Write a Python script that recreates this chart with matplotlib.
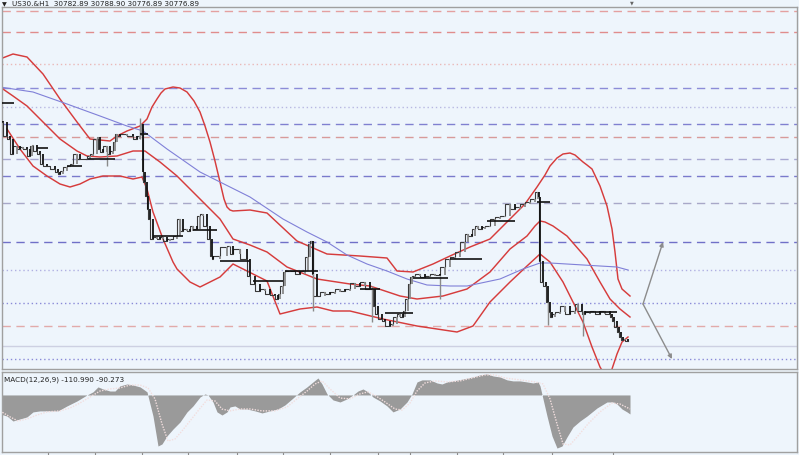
import matplotlib
matplotlib.use('Agg')
import matplotlib.pyplot as plt

BG = '#eef5fc'

# US30 H1 closes: (hour, close)
price_path = [
    (0, 31657), (1.5, 31653), (3.5, 31597), (5, 31585), (6.5, 31525), (8.5, 31557), (10, 31545),
    (11.5, 31553), (13.5, 31545), (15, 31517), (16, 31557), (16.5, 31561), (18.5, 31537), (20, 31525),
    (21.5, 31485), (23.5, 31477), (25, 31477), (27.5, 31465), (29, 31453), (30, 31445), (31.5, 31457),
    (33.5, 31473), (35, 31477), (36.5, 31485), (38.5, 31525), (40, 31505), (43.5, 31505), (45, 31517),
    (46.5, 31525), (48.5, 31585), (49, 31593), (50, 31545), (51.5, 31533), (53.5, 31557), (55, 31525),
    (56.5, 31537), (57.5, 31573), (58.5, 31605), (60, 31597), (63.5, 31605), (66.5, 31597), (68.5, 31585),
    (70, 31597), (71, 31645), (71.5, 31625), (71.5, 31453), (72.5, 31413), (73.5, 31357), (74, 31305),
    (75, 31265), (76.5, 31185), (78.5, 31193), (80, 31185), (81.5, 31193), (83.5, 31177), (85, 31185),
    (86.5, 31185), (88.5, 31197), (90, 31265), (91.5, 31217), (93.5, 31225), (95, 31217), (96.5, 31237),
    (98.5, 31225), (100, 31277), (101.5, 31285), (103.5, 31237), (105, 31185), (106, 31117), (106.5, 31105),
    (110, 31117), (113.5, 31153), (115, 31157), (116.5, 31125), (120, 31145), (123.5, 31105), (125, 31037),
    (127.5, 31005), (130, 30977), (132.5, 30985), (135, 30965), (137.5, 30961), (139, 30945), (140, 30965),
    (141.5, 30997), (142.5, 31053), (145, 31057), (147.5, 31057), (150, 31045), (152.5, 31057), (154, 31113),
    (155, 31165), (156, 31177), (156.5, 31045), (158.5, 30957), (160, 30957), (162.5, 30973), (165, 30965),
    (167.5, 30973), (170, 30985), (172.5, 30977), (175, 30985), (177.5, 31009), (180, 30997), (182.5, 31013),
    (185, 30985), (186.5, 30985), (187.5, 30917), (189, 30885), (191, 30865), (192.5, 30857), (195, 30837),
    (196.5, 30845), (198.5, 30873), (200, 30885), (201.5, 30873), (202.5, 30897), (204, 30945), (205, 31005),
    (206, 31033), (207.5, 31037), (210, 31045), (212.5, 31033), (215, 31037), (217.5, 31045), (220, 31041),
    (222.5, 31073), (225, 31105), (227.5, 31113), (230, 31133), (232.5, 31173), (234, 31205), (236, 31197),
    (237.5, 31225), (239, 31237), (241, 31225), (242.5, 31233), (245, 31237), (247.5, 31265), (250, 31273),
    (252.5, 31277), (255, 31325), (257.5, 31305), (260, 31313), (262.5, 31325), (265, 31333), (267.5, 31345),
    (269, 31373), (269.5, 31353), (270, 31097), (271.5, 31013), (273, 30997), (274, 30933), (275, 30893),
    (276, 30873), (277.5, 30885), (280, 30893), (282.5, 30917), (285, 30885), (287.5, 30897), (289, 30925),
    (291, 30897), (292.5, 30885), (295, 30893), (297.5, 30897), (300, 30885), (302.5, 30897), (305, 30885),
    (306, 30873), (307, 30857), (308.5, 30833), (309.5, 30813), (310.5, 30793), (311.5, 30781),
    (312.5, 30785), (314, 30777),
]

wick_hours = [53.5, 70, 156.5, 186, 220, 274, 291.5]
wick_high = [31557, 31669, 31177, 30997, 31037, 30933, 30897]
wick_low = [31477, 31585, 30897, 30853, 30945, 30841, 30797]

# higher timeframe open/close marks: (from hour, to hour, level)
htf_marks = [
    (0, 7, 31729), (18.5, 24, 31549), (33.5, 41, 31477), (44, 57.5, 31505), (70, 74, 31605),
    (76.5, 91.5, 31197), (96.5, 108.5, 31221), (110, 125, 31097), (126.5, 141.5, 31017),
    (142.5, 159, 31057), (180, 190, 30985), (192.5, 206.5, 30889), (206.5, 224, 31029),
    (225, 241, 31105), (243.5, 257.5, 31257), (268.5, 275, 31333), (292.5, 308.5, 30893),
]

bb_upper_t = [0, 6.5, 13.5, 21.5, 30, 38.5, 45, 55, 58.5, 63.5, 70, 73.5, 76, 78.5, 80.5, 82.5, 86.5,
              90, 93.5, 97, 100, 102.5, 105, 107.5, 110, 112, 113.5, 115, 116.5, 125, 133.5, 141,
              148.5, 163.5, 180, 193.5, 198.5, 206.5, 216.5, 225, 235, 245, 255, 262.5, 268.5, 272.5,
              275, 278.5, 281.5, 285, 287.5, 291.5, 293.5, 296, 300, 303.5, 306, 307.5, 309, 311, 315]
bb_upper = [31905, 31925, 31913, 31845, 31745, 31653, 31585, 31577, 31597, 31617, 31637, 31665, 31713,
            31745, 31769, 31785, 31793, 31789, 31773, 31737, 31693, 31637, 31573, 31497, 31413, 31345,
            31313, 31301, 31297, 31301, 31289, 31233, 31177, 31125, 31117, 31109, 31057, 31053, 31085,
            31117, 31153, 31185, 31265, 31325, 31393, 31441, 31477, 31509, 31525, 31529, 31521, 31493,
            31481, 31465, 31397, 31317, 31225, 31133, 31025, 30985, 30957]

bb_mid_t = [0, 6.5, 13.5, 21.5, 30, 38.5, 43.5, 50, 58.5, 66.5, 72.5, 80, 88.5, 100, 110, 116.5, 125,
            133.5, 143.5, 158.5, 175, 185, 200, 208.5, 221.5, 233.5, 245, 255, 263.5, 267.5, 270,
            272.5, 276.5, 283.5, 293.5, 300, 305, 310, 315]
bb_mid = [31793, 31757, 31717, 31653, 31585, 31537, 31517, 31513, 31517, 31537, 31537, 31493, 31437,
          31345, 31265, 31185, 31161, 31133, 31073, 31025, 31005, 30997, 30957, 30945, 30957, 30985,
          31053, 31145, 31197, 31237, 31257, 31253, 31237, 31197, 31105, 31013, 30945, 30905, 30873]

bb_lower_t = [3.5, 10, 16.5, 23.5, 30, 35, 40, 45, 51.5, 60, 66.5, 71, 73.5, 76.5, 81.5, 86.5, 88.5,
              95, 100, 110, 116.5, 123.5, 133.5, 140, 150, 158.5, 166.5, 175, 191.5, 208.5, 228.5,
              236.5, 245, 255, 263.5, 270, 275, 281.5, 291.5, 296, 300, 303, 306, 308.5, 311, 314]
bb_lower = [31625, 31545, 31477, 31437, 31405, 31393, 31405, 31425, 31437, 31437, 31425, 31433, 31385,
            31293, 31185, 31093, 31065, 31013, 30993, 31033, 31085, 31057, 31017, 30885, 30905, 30913,
            30897, 30897, 30865, 30837, 30813, 30837, 30933, 31013, 31077, 31125, 31093, 31013, 30853,
            30753, 30673, 30633, 30665, 30725, 30773, 30793]

ma_t = [0, 16.5, 33.5, 50, 63.5, 71.5, 83.5, 100, 110, 125, 141.5, 153.5, 163.5, 173.5, 183.5, 193.5,
        203.5, 213.5, 225, 233.5, 250, 261.5, 270, 275, 300, 308.5, 314]
ma = [31793, 31773, 31725, 31677, 31637, 31617, 31545, 31453, 31413, 31353, 31265, 31213, 31173, 31121,
      31085, 31057, 31025, 31001, 30997, 30997, 31025, 31065, 31089, 31089, 31077, 31073, 31061]

levels = [32097, 32013, 31885, 31789, 31713, 31645, 31593, 31505, 31437, 31329, 31173, 31061, 30929,
          30837, 30757, 30705]
level_colors = ['#e4a0a0', '#e08c8c', '#eab8b8', '#8c8cd8', '#b8b8e2', '#8080d0', '#d89a9a', '#a8a8d2',
                '#7a7acc', '#a8a8c8', '#7070c8', '#b0b0e2', '#8a8ad8', '#e2aaaa', '#cdd0e2', '#8a8ad8']
level_styles = ['dash', 'dash', 'dot', 'dash', 'dot', 'dash', 'dash', 'dash', 'dash', 'dash', 'dash',
                'dot', 'dot', 'dash', 'solid', 'dot']

macd_t = [0, 3.5, 6.5, 10, 13.5, 16.5, 20, 25, 29, 33.5, 38.5, 43.5, 46.5, 49, 51.5, 55, 57.5, 60,
          63.5, 66.5, 70, 71.5, 73.5, 76.5, 79, 81, 83.5, 86.5, 90, 93.5, 96.5, 100, 102.5, 104, 106.5,
          108.5, 111, 113.5, 115, 117.5, 120, 123.5, 127.5, 131, 135, 139, 142.5, 146, 150, 153.5,
          156.5, 159, 161, 163.5, 166.5, 170, 173.5, 176.5, 179, 181.5, 184, 186.5, 190, 193.5, 196.5,
          200, 203.5, 206, 208.5, 211, 215, 218.5, 221, 223.5, 226.5, 231.5, 236.5, 240, 243.5, 246.5,
          250, 253.5, 256.5, 260, 263.5, 266.5, 269, 270, 271.5, 273.5, 276, 278.5, 281, 283.5, 286.5,
          290, 293.5, 298.5, 303.5, 306.5, 308.5, 311, 313.5, 315]
macd_hist = [-111, -123, -152, -140, -128, -99, -93, -93, -93, -64, -35, 0, 18, 47, 35, 23, 23, 53,
             64, 58, 47, 35, 18, -123, -298, -286, -239, -199, -158, -99, -64, -12, 6, 0, -41, -99,
             -117, -99, -70, -64, -82, -82, -93, -105, -93, -82, -58, -23, 18, 47, 76, 99, 64, 6, -29,
             -41, -23, 0, 23, 35, 18, -12, -35, -64, -99, -82, -41, 6, 76, 88, 88, 70, 64, 76, 82, 93,
             105, 117, 123, 111, 105, 88, 82, 82, 76, 70, 76, 53, -23, -123, -239, -310, -298, -245,
             -187, -152, -123, -76, -41, -41, -53, -82, -99, -111]

sig_t = [0, 5, 9, 13.5, 18.5, 23.5, 30, 35, 40, 45, 50, 55, 60, 65, 70, 74, 77.5, 81, 84, 87.5, 91,
         95, 99, 103.5, 107.5, 111, 115, 120, 125, 131, 137.5, 143.5, 148.5, 153.5, 157.5, 161, 165,
         170, 175, 180, 184, 188, 192.5, 197.5, 201, 205, 208.5, 212.5, 217.5, 223.5, 230, 236, 242.5,
         247.5, 252.5, 260, 267.5, 271.5, 275, 278.5, 281.5, 285, 289, 294, 300, 306, 310, 315]
macd_signal = [-93, -128, -152, -140, -117, -99, -93, -76, -47, -12, 23, 35, 41, 58, 58, 41, -23,
               -169, -269, -257, -210, -152, -93, -29, -35, -82, -93, -82, -82, -93, -93, -70, -23,
               23, 64, 82, 35, -18, -23, 6, 18, -6, -41, -82, -88, -47, 23, 70, 82, 76, 82, 99, 117,
               117, 99, 88, 76, 64, -23, -169, -286, -292, -239, -169, -99, -47, -53, -82]

tick_hours = [24, 47.5, 71, 94, 118.5, 141.5, 165, 189, 205, 228.5, 251.5, 276, 306.5]

fig = plt.figure(figsize=(7.99, 4.56), dpi=100, facecolor=BG)
ax = fig.add_axes([2 / 799, 86 / 456, 795 / 799, 362 / 456], facecolor=BG)
mx = fig.add_axes([2 / 799, 3 / 456, 795 / 799, 80 / 456], facecolor=BG)

# levels
dash_map = {'dash': (0, (6, 4)), 'dot': (0, (1, 2)), 'solid': '-'}
for lv, c, s in zip(levels, level_colors, level_styles):
    ax.axhline(lv, color=c, ls=dash_map[s], lw=1.0, zorder=1)

# bollinger + ma
for bt, bv in ((bb_upper_t, bb_upper), (bb_mid_t, bb_mid), (bb_lower_t, bb_lower)):
    ax.plot(bt, bv, color='#d63c3c', lw=1.05, zorder=2, solid_joinstyle='round')
ax.plot(ma_t, ma, color='#8080d8', lw=0.8, zorder=2)

# price bars
hours = [p[0] for p in price_path]
closes = [p[1] for p in price_path]
ax.step(hours, closes, where='pre', color='#3a3a3a', lw=0.8, zorder=3)
for i in range(1, len(hours)):
    lo, hi = sorted((closes[i - 1], closes[i]))
    col = '#111111' if closes[i] < closes[i - 1] else '#8a8a8a'
    ax.vlines(hours[i], lo, hi, color=col, lw=1.3, zorder=4)
ax.vlines(wick_hours, wick_low, wick_high, color='#8a8a8a', lw=1.0, zorder=3)
for t0, t1, lv in htf_marks:
    ax.hlines(lv, t0, t1, color='#111111', lw=1.2, zorder=5)

# projection arrows
arr = dict(arrowstyle='-|>', color='#8c8c8c', lw=1.0, mutation_scale=6, shrinkA=0, shrinkB=0)
ax.annotate('', xy=(331.5, 31173), xytext=(321.5, 30925), arrowprops=arr)
ax.annotate('', xy=(336, 30705), xytext=(321.5, 30925), arrowprops=arr)

ax.set_xlim(1, 398.5)
ax.set_ylim(30665, 32113)
ax.set_xticks([])
ax.set_yticks([])

# MACD
mx.fill_between(macd_t, 0, macd_hist, color='#9a9a9a', lw=0, zorder=2)
mx.plot(sig_t, macd_signal, color='#f2dede', lw=1.0, ls=(0, (1, 1)), zorder=3)
mx.set_xlim(1, 398.5)
mx.set_ylim(-333, 134)
mx.set_yticks([])
mx.set_xticks(tick_hours)
mx.set_xticklabels([])
mx.tick_params(axis='x', direction='out', length=3, width=0.8, color='#8a8a8a')
mx.text(0.003, 0.95, 'MACD(12,26,9) -110.990 -90.273', transform=mx.transAxes,
        fontsize=5.2, va='top', ha='left', color='#222222')

for a in (ax, mx):
    for sp in a.spines.values():
        sp.set_color('#a0a0a0')
        sp.set_linewidth(1.0)

fig.text(0.003, 1 - 4.5 / 456, '\u25bc', fontsize=4.5, va='center', ha='left', color='#222222')
fig.text(12 / 799, 1 - 4.5 / 456, 'US30.&H1  30782.89 30788.90 30776.89 30776.89',
         fontsize=5.2, va='center', ha='left', color='#222222')
fig.text(632 / 799, 1 - 3 / 456, '\u25bc', fontsize=3.5, va='center', ha='center', color='#666666')

fig.savefig('out.png', dpi=100, facecolor=BG)
